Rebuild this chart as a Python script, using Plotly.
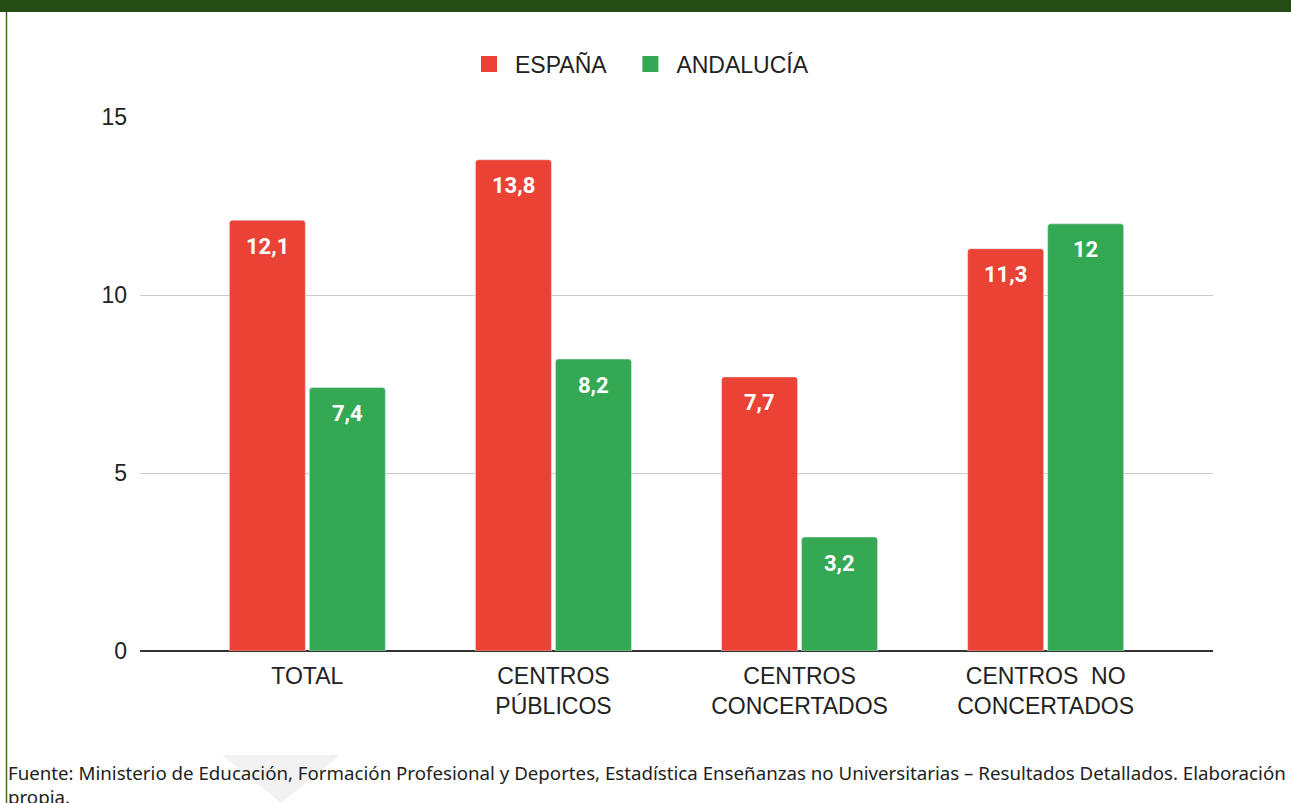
import plotly.graph_objects as go

# datos
categorias = ["TOTAL", "CENTROS<br>PÚBLICOS", "CENTROS<br>CONCERTADOS", "CENTROS  NO<br>CONCERTADOS"]
espana = [12.1, 13.8, 7.7, 11.3]
andalucia = [7.4, 8.2, 3.2, 12]
y_ticks = [0, 5, 10, 15]

ROJO = "#EA4335"
VERDE = "#34A853"

W, H = 1291, 803
ML, MR, MT, MB = 140, 78, 117, 152
PW, PH = W - ML - MR, H - MT - MB


def px(x):
    return (x - ML) / PW


def py(y):
    return (H - MB - y) / PH


def fmt(v):
    return f"{v:g}".replace(".", ",")


fig = go.Figure()
for nombre, serie, color in (("ESPAÑA", espana, ROJO), ("ANDALUCÍA", andalucia, VERDE)):
    fig.add_trace(go.Bar(x=categorias, y=serie, name=nombre, legendgroup=nombre,
                         showlegend=False, marker=dict(color=color, cornerradius=3),
                         hoverinfo="y"))
# entradas de leyenda con cuadrado más grande (espacios duros para separar)
for nombre, color in (("ESPAÑA", ROJO), ("ANDALUCÍA", VERDE)):
    fig.add_trace(go.Scatter(x=[None], y=[None], mode="markers",
                             name=nombre + "\u00a0\u00a0" if nombre == "ESPAÑA" else nombre,
                             legendgroup=nombre,
                             marker=dict(symbol="square", size=16, color=color)))

# etiquetas dentro de las barras
anns = []
for serie, dx in ((espana, -40), (andalucia, 40)):
    for c, v in zip(categorias, serie):
        anns.append(dict(x=c, y=v, text=f"<b>{fmt(v)}</b>", showarrow=False,
                         xshift=dx, yshift=-26, yanchor="middle",
                         font=dict(family="Roboto", size=22, color="white")))

# nota de fuente
anns.append(dict(
    xref="paper", yref="paper", x=px(6), y=py(758), xanchor="left", yanchor="top",
    align="left", showarrow=False,
    text="Fuente: Ministerio de Educación, Formación Profesional y Deportes, Estadística "
         "Enseñanzas no Universitarias – Resultados Detallados. Elaboración<br>propia.",
    font=dict(family="Noto Sans", size=18.7, color="#222")))

shapes = [
    # banda verde superior
    dict(type="rect", xref="paper", yref="paper", x0=px(0), x1=px(W), y0=py(0), y1=py(12),
         fillcolor="#234d14", line_width=0, layer="above"),
    # línea izquierda
    dict(type="line", xref="paper", yref="paper", x0=px(6.5), x1=px(6.5), y0=py(12), y1=py(H),
         line=dict(color="#3f6f25", width=1.5)),
    # marca de agua
    dict(type="path", xref="paper", yref="paper", layer="below",
         path=f"M {px(222)},{py(755)} L {px(340)},{py(755)} L {px(281)},{py(803)} Z",
         fillcolor="#f2f2f2", line_width=0),
]

fig.update_layout(
    width=W, height=H,
    margin=dict(l=ML, r=MR, t=MT, b=MB),
    paper_bgcolor="white", plot_bgcolor="white",
    barmode="group", bargap=0.35, bargroupgap=0.05,
    font=dict(family="Liberation Sans, Arial", size=22, color="#222"),
    legend=dict(orientation="h", x=px(463), xanchor="left", y=py(64), yanchor="middle",
                font=dict(size=23), itemwidth=42, traceorder="normal"),
    annotations=anns, shapes=shapes,
    showlegend=True,
)
fig.update_xaxes(range=[-0.68, 3.68], showgrid=False, showline=False, ticks="",
                 ticklabelstandoff=9, tickfont=dict(size=23))
fig.update_yaxes(range=[0, 15], tickvals=y_ticks, gridcolor="#cccccc", gridwidth=1,
                 zeroline=True, zerolinecolor="#333333", zerolinewidth=1.5,
                 showline=False, ticklabelstandoff=12, tickfont=dict(size=23))

fig.write_html("out.html", config={"displayModeBar": False},
               post_script="document.body.style.margin='0';document.body.style.overflow='hidden';")
